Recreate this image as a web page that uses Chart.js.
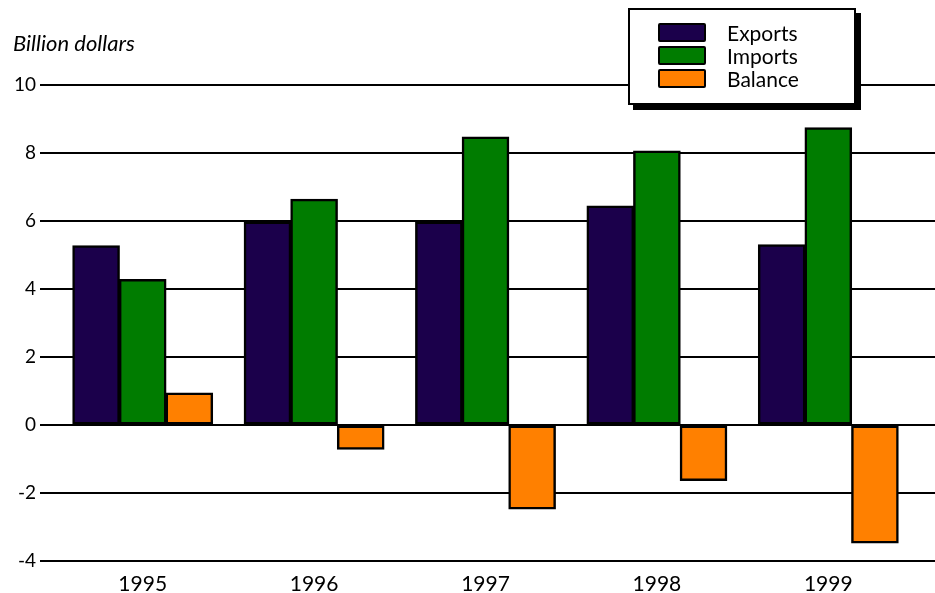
<!DOCTYPE html>
<html>
<head>
<meta charset="utf-8">
<script src="https://cdn.jsdelivr.net/npm/chart.js@4"></script>
<style>
  body { margin: 0; background: #fff; }
  #wrap { position: relative; width: 935px; height: 593px; font-family: Lato, "DejaVu Sans", sans-serif; }
  #unit { position: absolute; left: 13px; top: 29px; font-size: 22px; font-style: italic; color: #000; }
  #legend {
    position: absolute; left: 628px; top: 8px; width: 228px; height: 97px;
    box-sizing: border-box; border: 2px solid #000; background: #fff;
    box-shadow: 5px 5px 0 #000; padding: 11px 0 0 28px;
  }
  .item { display: flex; align-items: center; height: 23px; font-size: 21px; color: #000; }
  .swatch { width: 48px; height: 19px; box-sizing: border-box; border: 2px solid #000; border-radius: 2px; margin-right: 21px; }
</style>
</head>
<body>
<div id="wrap">
  <canvas id="chart"></canvas>
  <div id="unit">Billion dollars</div>
  <div id="legend"></div>
</div>
<script>
// data
const years = ["1995", "1996", "1997", "1998", "1999"];
const exportsData = [5.27, 5.97, 5.97, 6.44, 5.3];
const importsData = [4.28, 6.64, 8.47, 8.06, 8.74];
const balanceData = [0.94, -0.71, -2.47, -1.63, -3.47];
const yTicks = [-4, -2, 0, 2, 4, 6, 8, 10];

const canvas = document.querySelector("#chart");
canvas.width = 935;
canvas.height = 593;
const ctx = canvas.getContext("2d");

const font = "Lato, 'DejaVu Sans', sans-serif";

// same look for all three series
const barStyle = {
  borderColor: "#000",
  borderWidth: 2.5,
  borderSkipped: false,
  inflateAmount: 0.5,
  barPercentage: 1,
  categoryPercentage: 0.816,
};

const mChart = new Chart(ctx, {
  type: "bar",
  data: {
    labels: years,
    datasets: [
      { label: "Exports", data: exportsData, backgroundColor: "#1b004b", ...barStyle },
      { label: "Imports", data: importsData, backgroundColor: "#007c00", ...barStyle },
      { label: "Balance", data: balanceData, backgroundColor: "#ff8000", ...barStyle },
    ],
  },
  options: {
    responsive: false,
    animation: false,
    layout: { padding: { top: 85, left: 0, right: 0, bottom: 0 } },
    plugins: {
      legend: { display: false },
      tooltip: { enabled: false },
    },
    scales: {
      x: {
        grid: { display: false },
        border: { display: false },
        ticks: { color: "#000", font: { family: font, size: 21 }, padding: 3 },
        afterFit: (scale) => { scale.height = 32; },
      },
      y: {
        min: yTicks[0],
        max: yTicks[yTicks.length - 1],
        afterBuildTicks: (scale) => { scale.ticks = yTicks.map((v) => ({ value: v })); },
        grid: { color: "#000", lineWidth: 2, tickLength: 17 },
        border: { display: false },
        ticks: { color: "#000", font: { family: font, size: 19 }, padding: 4 },
        afterFit: (scale) => { scale.width = 57; },
      },
      // only here so the grid lines run on to the right edge
      y2: {
        position: "right",
        min: yTicks[0],
        max: yTicks[yTicks.length - 1],
        afterBuildTicks: (scale) => { scale.ticks = yTicks.map((v) => ({ value: v })); },
        grid: { color: "#000", lineWidth: 2, tickLength: 21, drawOnChartArea: false },
        border: { display: false },
        ticks: { display: false },
        afterFit: (scale) => { scale.width = 21; },
      },
    },
  },
});

// legend box with shadow, built from the datasets
const legend = document.querySelector("#legend");
mChart.data.datasets.forEach((ds) => {
  const row = document.createElement("div");
  row.className = "item";
  const sw = document.createElement("span");
  sw.className = "swatch";
  sw.style.background = ds.backgroundColor;
  row.appendChild(sw);
  row.appendChild(document.createTextNode(ds.label));
  legend.appendChild(row);
});
</script>
</body>
</html>
